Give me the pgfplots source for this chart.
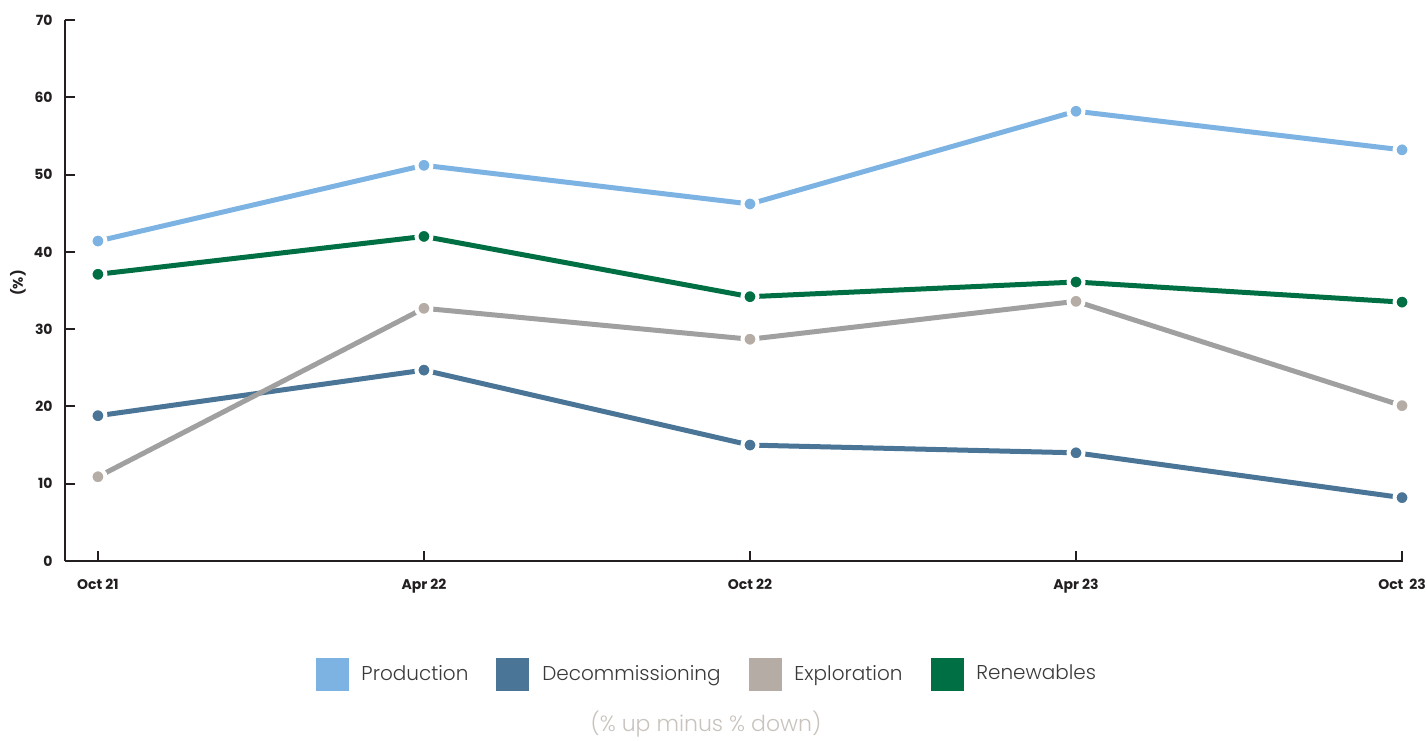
\documentclass[border=0pt]{standalone}
\usepackage{fontspec}
\setmainfont{Poppins}
\newfontfamily\lightf{Poppins Light}
\usepackage{pgfplots}
\pgfplotsset{compat=1.18}

\definecolor{prodc}{HTML}{7CB3E3}
\definecolor{decoc}{HTML}{4A7596}
\definecolor{explm}{HTML}{B5ADA5}
\definecolor{expll}{HTML}{A0A0A0}
\definecolor{renc}{HTML}{007044}
\definecolor{axisc}{HTML}{231F20}
\definecolor{notec}{HTML}{C8C3BD}
\definecolor{legtext}{HTML}{3A3A3A}

\pgfplotsset{
  series/.style={forget plot, line width=2.5pt, mark=*, mark size=3.75pt,
    mark options={draw=white, line width=2pt, fill=#1}},
  swatch/.style={legend image code/.code={\fill[#1] (0pt,-8pt) rectangle (16pt,8pt);}},
}

\begin{document}
\begin{tikzpicture}
\useasboundingbox (-32.5pt,-89.5pt) rectangle (681pt,280.5pt);
\begin{axis}[
  width=669pt, height=270.5pt, scale only axis,
  clip=false,
  xmin=-0.101, xmax=4.003, ymin=0, ymax=70,
  axis lines*=left,
  axis line style={axisc, line width=1pt, -},
  tick align=inside,
  major tick length=5pt,
  tick style={axisc, line width=1pt},
  ytick={0,10,...,70},
  xtick={0,1,2,3,4},
  xticklabels={Oct 21, Apr 22, Oct 22, Apr 23, Oct\ \ 23},
  /pgf/number format/assume math mode=true,
  tick label style={font=\bfseries\fontsize{7}{8}\selectfont, text=axisc},
  yticklabel style={anchor=east, inner sep=0pt, xshift=-6pt},
  xticklabel style={anchor=base, inner sep=0pt, yshift=-14pt},
  ylabel={(\%)},
  ylabel style={font=\bfseries\fontsize{7}{8}\selectfont, text=axisc,
    at={(axis description cs:-0.0351,0.514)}, anchor=center},
  legend columns=4,
  legend cell align=left,
  legend style={at={(axis description cs:0.479,-0.209)}, anchor=center,
    draw=none, fill=none, font=\lightf\fontsize{10}{12}\selectfont, text=legtext,
    nodes={inner sep=0pt},
    /tikz/every odd column/.append style={column sep=6.5pt},
    /tikz/every even column/.append style={column sep=14pt}},
]
\addlegendimage{swatch=prodc}
\addlegendentry{Production}
\addlegendimage{swatch=decoc}
\addlegendentry{Decommissioning}
\addlegendimage{swatch=explm}
\addlegendentry{Exploration}
\addlegendimage{swatch=renc}
\addlegendentry{Renewables}

% Production
\addplot[series=prodc, prodc] coordinates {(0,41.4) (1,51.2) (2,46.2) (3,58.2) (4,53.2)};
% Decommissioning
\addplot[series=decoc, decoc] coordinates {(0,18.8) (1,24.7) (2,15.0) (3,14.0) (4,8.2)};
% Exploration
\addplot[series=explm, expll] coordinates {(0,10.9) (1,32.7) (2,28.7) (3,33.6) (4,20.1)};
% Renewables
\addplot[series=renc, renc] coordinates {(0,37.1) (1,42.0) (2,34.2) (3,36.1) (4,33.5)};

\node[font=\lightf\fontsize{11}{13}\selectfont, text=notec, anchor=center]
  at (axis description cs:0.479,-0.302) {(\% up minus \% down)};
\end{axis}
\end{tikzpicture}
\end{document}
